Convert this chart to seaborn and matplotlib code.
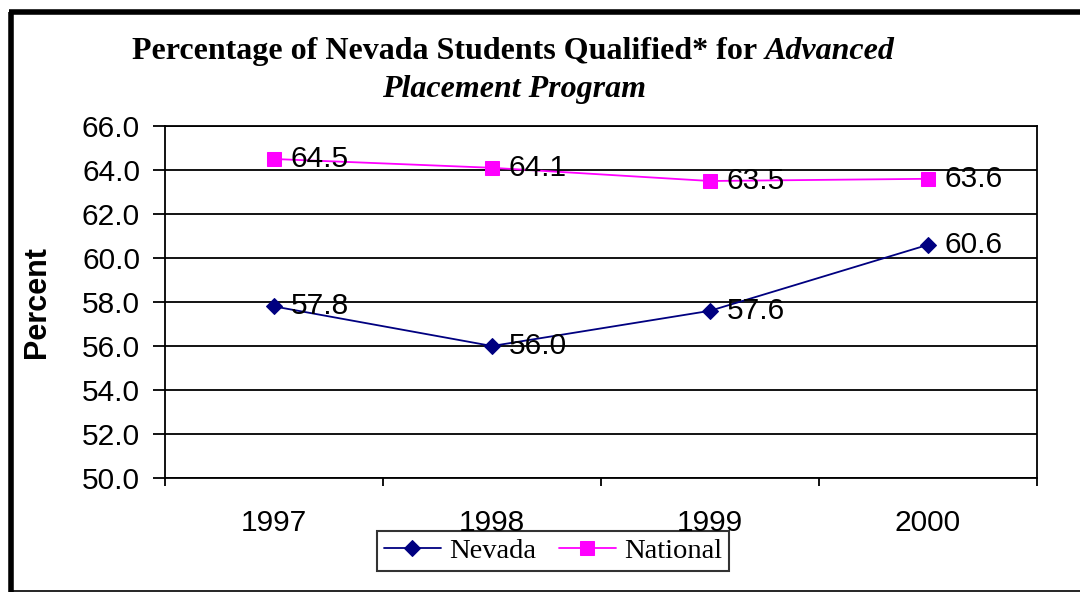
import pandas as pd
import matplotlib.pyplot as plt
import seaborn as sns
from matplotlib.lines import Line2D

sns.set_theme(style="white")
plt.rcParams['font.family'] = ['Liberation Sans', 'DejaVu Sans']
plt.rcParams['text.color'] = 'black'

# Data
years = ["1997", "1998", "1999", "2000"]
nevada = [57.8, 56.0, 57.6, 60.6]
national = [64.5, 64.1, 63.5, 63.6]
y_ticks = [50, 52, 54, 56, 58, 60, 62, 64, 66]

df = pd.DataFrame({"year": years * 2,
                   "value": nevada + national,
                   "series": ["Nevada"] * 4 + ["National"] * 4})
pos = {y: i for i, y in enumerate(years)}
df["pos"] = df["year"].map(pos)

fig = plt.figure(figsize=(10.8, 5.92), dpi=100)
ax = fig.add_axes([165 / 1080, 1 - 478 / 592, (1037 - 165) / 1080, (478 - 126) / 592])

styles = {"Nevada": ("#000080", "D", 8.5), "National": ("#FF00FF", "s", 10.5)}
for name in ["Nevada", "National"]:
    color, marker, ms = styles[name]
    sub = df[df["series"] == name]
    sns.lineplot(data=sub, x="pos", y="value", ax=ax, color=color, marker=marker,
                 markersize=ms, markeredgecolor=color, linewidth=1.3, label=name)
    for _, r in sub.iterrows():
        ax.annotate(f"{r['value']:.1f}", (r["pos"], r["value"]), xytext=(12, 0),
                    textcoords="offset points", va="center", ha="left", fontsize=21.5,
                    color="black")

ax.set_xlim(-0.5, len(years) - 0.5)
ax.set_ylim(50, 66)
ax.set_yticks(y_ticks)
ax.set_yticklabels([f"{v:.1f}" for v in y_ticks])
ax.set_xticks(range(len(years)))
ax.set_xticklabels(years)
ax.set_xticks([i - 0.5 for i in range(len(years) + 1)], minor=True)
ax.tick_params(axis="x", which="major", length=0, pad=22, labelsize=21.5, colors="black")
ax.tick_params(axis="x", which="minor", length=6, width=1.3, direction="out",
               color="black", bottom=True)
ax.tick_params(axis="y", length=8.5, width=1.3, direction="out", left=True,
               labelsize=21.5, colors="black", pad=9.5)
ax.yaxis.grid(True, color="black", linewidth=1.3)
ax.xaxis.grid(False)
for s in ax.spines.values():
    s.set_color("black")
    s.set_linewidth(1.3)
ax.set_xlabel("")
ax.set_ylabel("Percent", fontsize=22, fontweight="bold", color="black")
ax.yaxis.set_label_coords((37 - 165) / 872, 0.5)
ax.yaxis.label.set_va("center")

leg = ax.legend(loc="center", bbox_to_anchor=(553 / 1080, 1 - 551 / 592),
                bbox_transform=fig.transFigure, ncol=2, frameon=True, fancybox=False,
                prop={"family": "Liberation Serif", "size": 20.5}, handlelength=2.0,
                columnspacing=0.8, handletextpad=0.3, borderpad=0.25, borderaxespad=0)
leg.get_frame().set_edgecolor("black")
leg.get_frame().set_linewidth(1.5)

# Title with mixed bold / bold italic
fig.canvas.draw()
r = fig.canvas.get_renderer()
tkw = dict(family="Liberation Serif", fontweight="bold", fontsize=23, va="baseline",
           ha="left", color="black")
t1 = fig.text(0, 1 - 59 / 592, "Percentage of Nevada Students Qualified* for ", **tkw)
t2 = fig.text(0, 1 - 59 / 592, "Advanced", style="italic", **tkw)
w1 = t1.get_window_extent(r).width
w2 = t2.get_window_extent(r).width
x0 = 513 - (w1 + w2) / 2
t1.set_x(x0 / 1080)
t2.set_x((x0 + w1) / 1080)
fig.text(514 / 1080, 1 - 97 / 592, "Placement Program", style="italic",
         **{**tkw, "ha": "center"})

# Outer frame
fig.add_artist(Line2D([10.5 / 1080, 10.5 / 1080], [0, 1 - 11.5 / 592], color="black",
                      linewidth=4, transform=fig.transFigure, solid_capstyle="butt"))
fig.add_artist(Line2D([8.5 / 1080, 1], [1 - 11.5 / 592, 1 - 11.5 / 592], color="black",
                      linewidth=4, transform=fig.transFigure, solid_capstyle="butt"))
fig.add_artist(Line2D([10 / 1080, 1], [1.5 / 592, 1.5 / 592], color="black",
                      linewidth=1.2, transform=fig.transFigure))

fig.savefig("out.png", dpi=100)
